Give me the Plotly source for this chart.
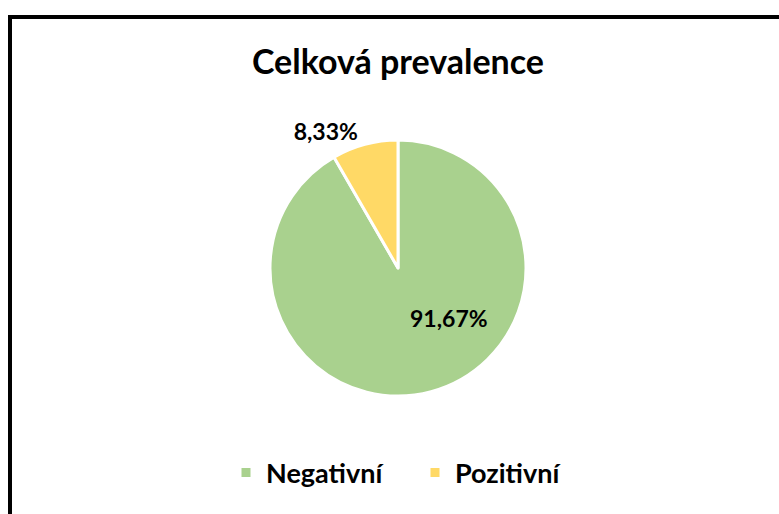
import plotly.graph_objects as go

# Overall prevalence split
categories = ["Negativní", "Pozitivní"]
shares = [91.67, 8.33]
colors = ["#A9D18E", "#FFD966"]

W, H = 779, 514

labels_text = [f"{v:.2f}".replace(".", ",") + "%" for v in shares]
label_font = dict(family="Lato", size=23, color="black", weight="bold")

fig = go.Figure(
    go.Pie(
        labels=categories,
        values=shares,
        sort=False,
        direction="clockwise",
        rotation=0,
        marker=dict(colors=colors, line=dict(color="white", width=3)),
        text=labels_text,
        textinfo="text",
        textposition=["none", "outside"],
        textfont=label_font,
        domain=dict(x=[270 / W, 526 / W], y=[1 - 396 / H, 1 - 140 / H]),
        hoverinfo="label+percent",
    )
)

# Label for the large slice, placed in its lower-right part
fig.add_annotation(
    text=labels_text[0],
    xref="paper",
    yref="paper",
    x=449 / W,
    y=1 - 318 / H,
    xanchor="center",
    yanchor="middle",
    showarrow=False,
    font=label_font,
)

fig.update_layout(
    width=W,
    height=H,
    margin=dict(l=0, r=0, t=0, b=0),
    paper_bgcolor="white",
    plot_bgcolor="white",
    title=dict(
        text="<b>Celková prevalence</b>",
        x=398 / W,
        xanchor="center",
        y=1 - 62 / H,
        yanchor="middle",
        font=dict(family="Lato", size=34, color="black"),
    ),
    legend=dict(
        orientation="h",
        x=226 / W,
        xanchor="left",
        y=1 - 473 / H,
        yanchor="middle",
        font=dict(family="Lato", size=27, color="black", weight="bold"),
        itemwidth=30,
        entrywidth=144,
        traceorder="normal",
    ),
    shapes=[
        dict(
            type="rect",
            xref="paper",
            yref="paper",
            x0=10 / W,
            x1=1.05,
            y0=-0.05,
            y1=1 - 17 / H,
            line=dict(color="black", width=4),
            fillcolor="rgba(0,0,0,0)",
            layer="above",
        )
    ],
)

fig.write_html("out.html")
